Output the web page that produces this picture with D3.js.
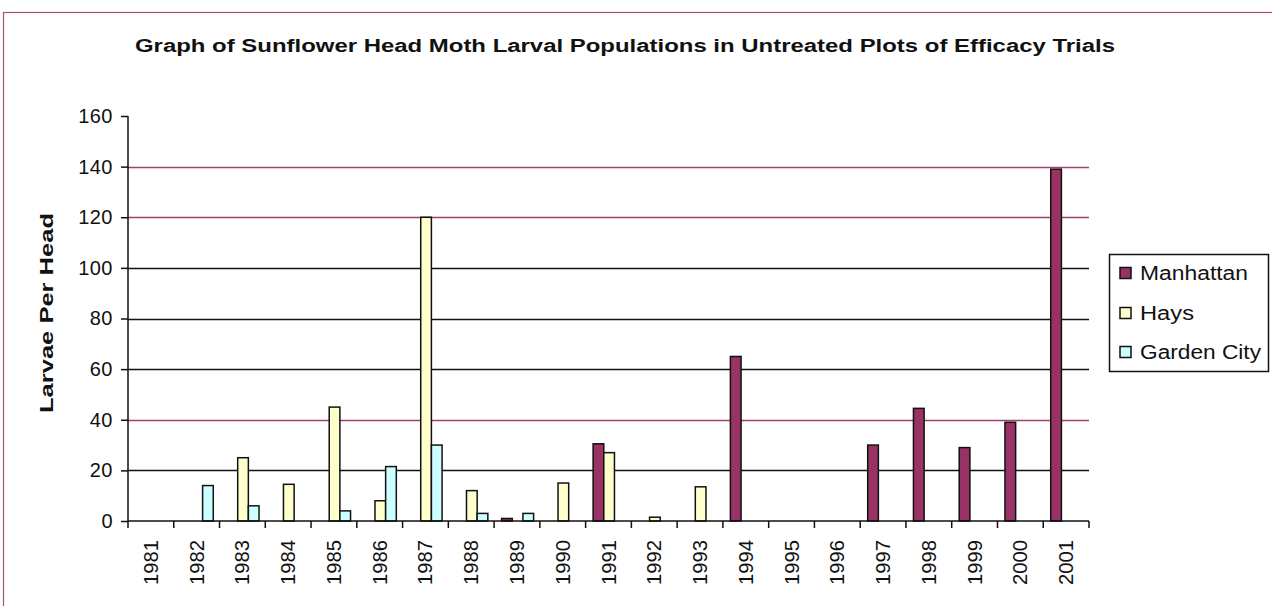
<!DOCTYPE html>
<html><head><meta charset="utf-8">
<script src="https://cdn.jsdelivr.net/npm/d3@7"></script>
<style>html,body{margin:0;padding:0;background:#fff;overflow:hidden}</style>
</head><body>
<svg id="c" width="1272" height="606"></svg>
<script>
const years = ["1981","1982","1983","1984","1985","1986","1987","1988","1989","1990","1991","1992","1993","1994","1995","1996","1997","1998","1999","2000","2001"];
const manhattan = [null,null,null,null,null,null,null,null,1,null,30.5,null,null,65,null,null,30,44.5,29,39,139];
const hays = [null,null,25,14.5,45,8,120,12,null,15,27,1.5,13.5,null,null,null,null,null,null,null,null];
const gardenCity = [null,14,6,null,4,21.5,30,3,3,null,null,null,null,null,null,null,null,null,null,null,null];
const seriesNames = ["Manhattan","Hays","Garden City"];
const seriesColors = ["#993366","#FFFFCC","#CCFFFF"];
const yTicks = [0,20,40,60,80,100,120,140,160];
const chartTitle = "Graph of Sunflower Head Moth Larval Populations in Untreated Plots of Efficacy Trials";
const yTitle = "Larvae Per Head";

(function(){
const svg = d3.select("#c");
const font = "Liberation Sans, Arial, sans-serif";
const pL = 128, pR = 1089, pT = 116, pB = 521;

// chart frame
svg.append("rect").attr("x",3.5).attr("y",12.5).attr("width",1400).attr("height",800)
  .attr("fill","none").attr("stroke","#a0507a").attr("stroke-width",1.2);

const x = d3.scaleBand().domain(years).range([pL,pR]).padding(0);
const y = d3.scaleLinear().domain([0,160]).range([pB,pT]);
const inner = d3.scaleBand().domain(seriesNames).range([7.5, 39.5]).padding(0);

// gridlines
const magentaLines = new Set([40,120,140]);
svg.append("g").selectAll("line").data(yTicks.filter(v=>v>0 && v<160)).join("line")
  .attr("x1",pL).attr("x2",pR)
  .attr("y1",d=>Math.round(y(d))+0.5).attr("y2",d=>Math.round(y(d))+0.5)
  .attr("stroke",d=>magentaLines.has(d)?"#a0406e":"#111").attr("stroke-width",1.3);

// bars
const data = [manhattan,hays,gardenCity];
data.forEach((vals,si)=>{
  svg.append("g").selectAll("rect").data(years.map((yr,i)=>({yr,v:vals[i]})).filter(d=>d.v!=null)).join("rect")
    .attr("x",d=>x(d.yr)+inner(seriesNames[si]))
    .attr("y",d=>y(d.v))
    .attr("width",inner.bandwidth())
    .attr("height",d=>pB-y(d.v))
    .attr("fill",seriesColors[si]).attr("stroke","#111").attr("stroke-width",1.5);
});

// y axis
const yAxis = d3.axisLeft(y).tickValues(yTicks).tickSize(7).tickPadding(8);
const gy = svg.append("g").attr("transform",`translate(${pL},0)`).call(yAxis);
gy.select(".domain").attr("stroke","#111").attr("stroke-width",1.5).attr("d",`M0,${pT}V${pB}`);
gy.selectAll(".tick line").attr("stroke","#111").attr("stroke-width",1.5);
gy.selectAll(".tick text").attr("font-family",font).attr("font-size",20).attr("fill","#111")
  .attr("letter-spacing","0.5px");

// x axis
const xAxis = d3.axisBottom(x).tickSize(0).tickFormat("");
const gx = svg.append("g").attr("transform",`translate(0,${pB})`).call(xAxis);
gx.select(".domain").attr("stroke","#111").attr("stroke-width",1.5).attr("d",`M${pL},0H${pR}`);
gx.selectAll(".tick").remove();
const bounds = years.map(yr=>x(yr)).concat([pR]);
svg.append("g").selectAll("line").data(bounds).join("line")
  .attr("x1",d=>d).attr("x2",d=>d).attr("y1",pB).attr("y2",pB+7)
  .attr("stroke","#111").attr("stroke-width",1.5);
svg.append("g").selectAll("text").data(years).join("text")
  .attr("transform",d=>`translate(${x(d)+x.bandwidth()/2+7},${pB+19}) rotate(-90)`)
  .attr("text-anchor","end").attr("font-family",font).attr("font-size",20).attr("fill","#111")
  .attr("textLength",45).attr("lengthAdjust","spacingAndGlyphs")
  .text(d=>d);

// titles
svg.append("text").attr("x",625).attr("y",52).attr("text-anchor","middle")
  .attr("font-family",font).attr("font-weight","bold").attr("font-size",18).attr("fill","#111")
  .attr("textLength",980).attr("lengthAdjust","spacingAndGlyphs").text(chartTitle);
svg.append("text").attr("transform","translate(53,313) rotate(-90)").attr("text-anchor","middle")
  .attr("font-family",font).attr("font-weight","bold").attr("font-size",19).attr("fill","#111")
  .attr("textLength",200).attr("lengthAdjust","spacingAndGlyphs").text(yTitle);

// legend
const lg = svg.append("g");
lg.append("rect").attr("x",1109.5).attr("y",254.5).attr("width",159).attr("height",117)
  .attr("fill","#fff").attr("stroke","#111").attr("stroke-width",1.5);
const legY = [273,313,352];
const legW = [108,54,121];
seriesNames.forEach((n,i)=>{
  lg.append("rect").attr("x",1120).attr("y",legY[i]-5.5).attr("width",11).attr("height",11)
    .attr("fill",seriesColors[i]).attr("stroke","#111").attr("stroke-width",1.5);
  lg.append("text").attr("x",1140).attr("y",legY[i]+7).attr("font-family",font).attr("font-size",20)
    .attr("fill","#111").attr("textLength",legW[i]).attr("lengthAdjust","spacingAndGlyphs").text(n);
});
})();
</script>
</body></html>
